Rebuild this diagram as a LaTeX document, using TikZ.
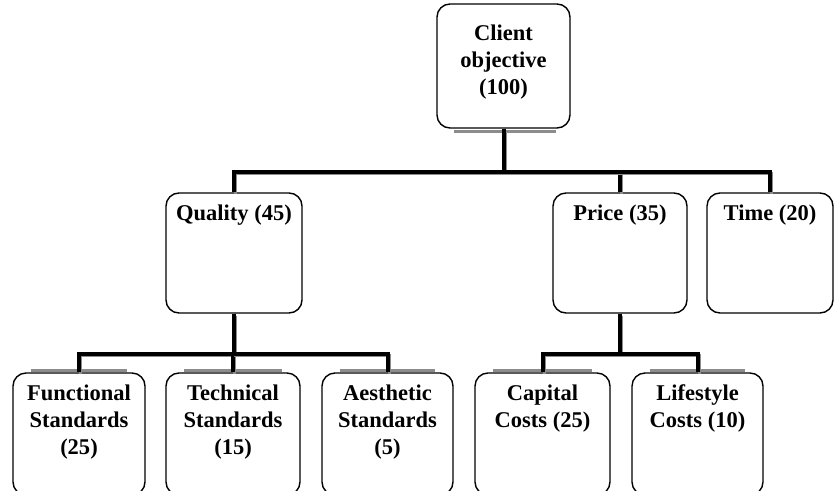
\documentclass[tikz,border=0pt]{standalone}
\usepackage{fontspec}
\setmainfont{Liberation Serif}
\usetikzlibrary{positioning}

\begin{document}
\begin{tikzpicture}[x=1pt, y=-1pt,
        box/.style={draw, line width=1.4pt, rounded corners=13pt, minimum width=134pt, minimum height=120pt},
        boxtext/.style={anchor=north, align=center, inner sep=0pt, yshift=-12pt,
            font=\fontsize{22.5}{27}\selectfont\bfseries},
        link/.style={line width=4pt},
        linkshade/.style={line width=3pt, black!45, transform canvas={shift={(1.8pt,-1.8pt)}}},
        ghost/.style={line width=3pt, black!45}
    ]
        \useasboundingbox (0,0) rectangle (834,490);

        % Top
        \node[box, minimum width=133pt, minimum height=124pt,
            label={[boxtext, yshift=-9pt]north:{Client\\objective\\(100)}}] (client) at (503.5,66) {};

        % Middle row
        \node[box, minimum width=136pt, label={[boxtext]north:Quality (45)}] (quality) at (234,253) {};
        \node[box, label={[boxtext]north:Price (35)}] (price) at (620,253) {};
        \node[box, minimum width=126pt, label={[boxtext]north:Time (20)}] (time) at (770,253) {};

        % Bottom row
        \node[box, minimum width=132pt, minimum height=122pt,
            label={[boxtext]north:{Functional\\Standards\\(25)}}] (functional) at (79,434) {};
        \node[box, minimum height=122pt,
            label={[boxtext]north:{Technical\\Standards\\(15)}}] (technical) at (233,434) {};
        \node[box, minimum width=131pt, minimum height=122pt,
            label={[boxtext]north:{Aesthetic\\Standards\\(5)}}] (aesthetic) at (387.5,434) {};
        \node[box, minimum width=135pt, minimum height=122pt,
            label={[boxtext]north:{Capital\\Costs (25)}}] (capital) at (542.5,434) {};
        \node[box, minimum width=131pt, minimum height=122pt,
            label={[boxtext]north:{Lifestyle\\Costs (10)}}] (lifestyle) at (697.5,434) {};

        % Grey strips along the box edges
        \draw[ghost] ([xshift=18pt, yshift=-3pt]client.south west) -- ([xshift=-15pt, yshift=-3pt]client.south east);
        \foreach \b in {functional, technical, aesthetic, capital, lifestyle}
            \draw[ghost] ([xshift=19pt, yshift=2pt]\b.north west) -- ([xshift=-19pt, yshift=2pt]\b.north east);

        % Connectors
        \foreach \kid in {quality, price, time} {
            \draw[linkshade] (client.south) -- ++(0,43) -| (\kid.north);
            \draw[link] (client.south) -- ++(0,43) -| (\kid.north);
        }
        \foreach \kid in {functional, technical, aesthetic} {
            \draw[linkshade] (quality.south) -- ++(0,40) -| (\kid.north);
            \draw[link] (quality.south) -- ++(0,40) -| (\kid.north);
        }
        \foreach \kid in {capital, lifestyle} {
            \draw[linkshade] (price.south) -- ++(0,40) -| (\kid.north);
            \draw[link] (price.south) -- ++(0,40) -| (\kid.north);
        }
    \end{tikzpicture}
\end{document}
